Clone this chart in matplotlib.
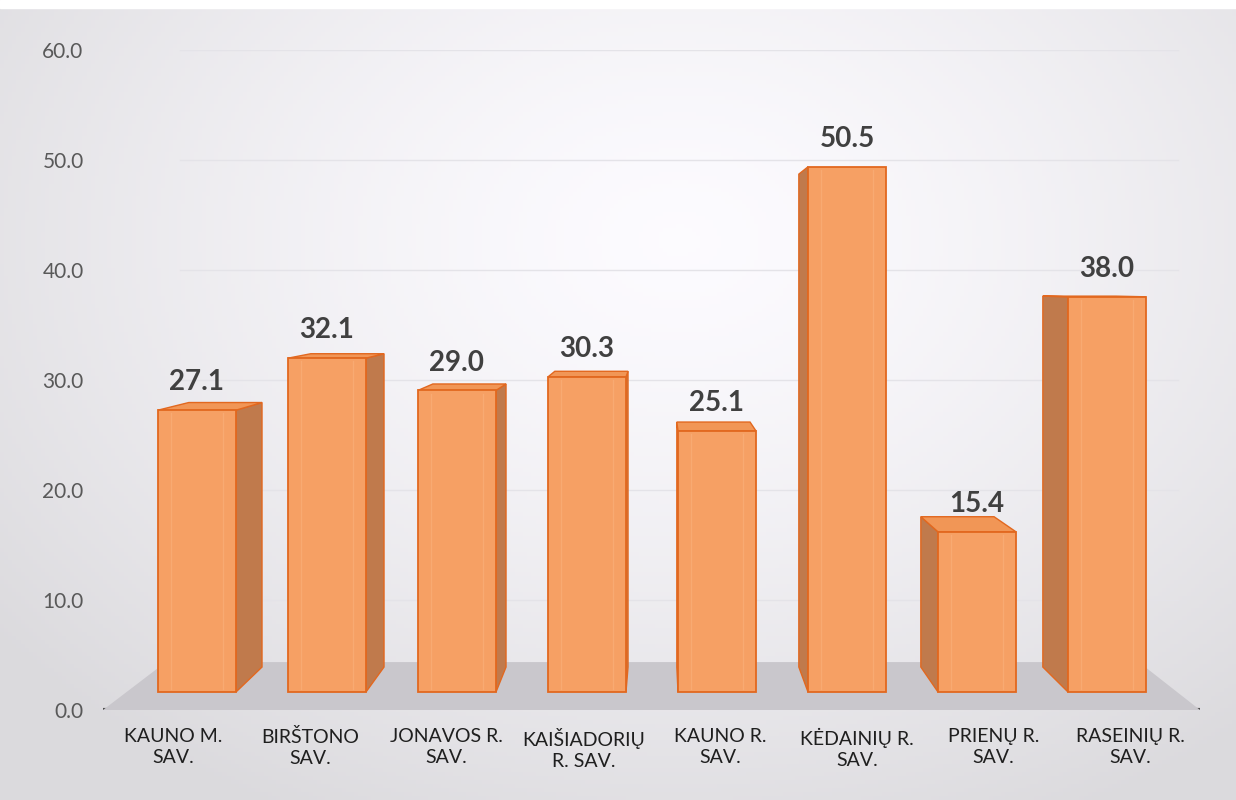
import numpy as np
import matplotlib
matplotlib.use("Agg")
import matplotlib.pyplot as plt
from matplotlib.patches import Polygon

plt.rcParams['font.family'] = ['Lato', 'DejaVu Sans']

categories = ['KAUNO M.\nSAV.', 'BIRŠTONO\nSAV.', 'JONAVOS R.\nSAV.', 'KAIŠIADORIŲ\nR. SAV.',
              'KAUNO R.\nSAV.', 'KĖDAINIŲ R.\nSAV.', 'PRIENŲ R.\nSAV.', 'RASEINIŲ R.\nSAV.']
values = [27.1, 32.1, 29.0, 30.3, 25.1, 50.5, 15.4, 38.0]
yticks = [0, 10, 20, 30, 40, 50, 60]

W, H = 1236, 800
fig = plt.figure(figsize=(W / 100, H / 100), dpi=100)

# scanned page background: whitish middle, greyish edges
bg = fig.add_axes([0, 0, 1, 1], zorder=-10)
yy, xx = np.mgrid[0:1:200j, 0:1:300j]
r = np.sqrt(((xx - 0.55) / 0.7) ** 2 + ((yy - 0.3) / 0.8) ** 2)
shade = np.clip(1 - 0.13 * r ** 1.4, 0.87, 1)
img = np.dstack([shade * 0.99, shade * 0.985, shade * 1.0])
bg.imshow(np.clip(img, 0, 1), aspect='auto', extent=[0, 1, 0, 1], origin='upper')
bg.axhspan(0.99, 1, color='white')
bg.set_xlim(0, 1)
bg.set_ylim(0, 1)
bg.axis('off')

# main value axes (back wall gridlines and ticks)
left, right = 103, 1200
y0_px, y60_px = 710, 50
pos = [left / W, 1 - y0_px / H, (right - left) / W, (y0_px - y60_px) / H]
ax = fig.add_axes(pos)
ax.set_facecolor('none')
ax.set_ylim(0, 60)
ax.set_yticks(yticks)
ax.set_yticklabels([f'{t:.1f}' for t in yticks], fontsize=15, color='#595959')
ax.tick_params(axis='y', length=0, pad=14)
for t in yticks[1:]:
    ax.axhline(t, xmin=0.07, xmax=0.98, color='#e4e3e8', lw=1.0, zorder=0)
for s in ax.spines.values():
    s.set_visible(False)

# bar axes with its own front-plane scale
xpos = np.arange(len(values))
px_per_idx = 130.0
x_first = 197.0
xlim = ((left - x_first) / px_per_idx, (right - x_first) / px_per_idx)

bx = fig.add_axes(pos, zorder=2)
bx.set_facecolor('none')
scale = 10.4
base_px = 692
ylo = -(y0_px - base_px) / scale
bx.set_ylim(ylo, ylo + (y0_px - y60_px) / scale)
bx.set_xlim(*xlim)
bx.axis('off')

vp = np.array([(659 - x_first) / px_per_idx, (base_px - 286) / scale])
k = 0.0615


def back(p, kk=k):
    p = np.asarray(p, dtype=float)
    return p + kk * (vp - p)


# category labels sit on the front edge of the floor (projected outwards)
label_x = xpos + 0.052 * (xpos - vp[0])
ax.set_xlim(*xlim)
ax.set_xticks(label_x)
ax.set_xticklabels(categories, fontsize=14, color='#1f1f1f', linespacing=1.3)
ax.tick_params(axis='x', length=0, pad=13)

# floor
kf = 0.113
fl = [(xlim[0], ylo), (xlim[1], ylo), tuple(back((xlim[1], ylo), kf)), tuple(back((xlim[0], ylo), kf))]
bx.add_patch(Polygon(fl, closed=True, facecolor='#c9c7cc', edgecolor='none', zorder=1))

# axis line
ax.axhline(0, color='#4d4d4d', lw=3, zorder=3)

bw = 0.6
front_c = '#f6a064'
edge_c = '#e2681f'
side_c = '#c07a4c'
top_c = '#f19656'
for x, v in zip(xpos, values):
    xl, xr = x - bw / 2, x + bw / 2
    if xr < vp[0]:
        side = [(xr, 0), (xr, v), tuple(back((xr, v))), tuple(back((xr, 0)))]
        bx.add_patch(Polygon(side, closed=True, facecolor=side_c, edgecolor=edge_c, lw=1.0, zorder=3))
    if xl > vp[0]:
        side = [(xl, 0), (xl, v), tuple(back((xl, v))), tuple(back((xl, 0)))]
        bx.add_patch(Polygon(side, closed=True, facecolor=side_c, edgecolor=edge_c, lw=1.0, zorder=3))
    if v < vp[1]:
        top = [(xl, v), (xr, v), tuple(back((xr, v))), tuple(back((xl, v)))]
        bx.add_patch(Polygon(top, closed=True, facecolor=top_c, edgecolor=edge_c, lw=1.0, zorder=3))

bars = bx.bar(xpos, values, width=bw, color=front_c, edgecolor=edge_c, linewidth=1.3, zorder=4)
# faint bevel lines on the front faces
for x, v in zip(xpos, values):
    for off in (-0.2, 0.2):
        bx.plot([x + off, x + off], [0.3, v - 0.3], color='#f8aa72', lw=1.0, zorder=5)

for x, v in zip(xpos, values):
    bx.annotate(f'{v:.1f}', (x, v), xytext=(0, 20), textcoords='offset points',
                ha='center', va='center', fontsize=20, fontweight='bold', color='#404040', zorder=6)

fig.savefig('out.png', dpi=100)
